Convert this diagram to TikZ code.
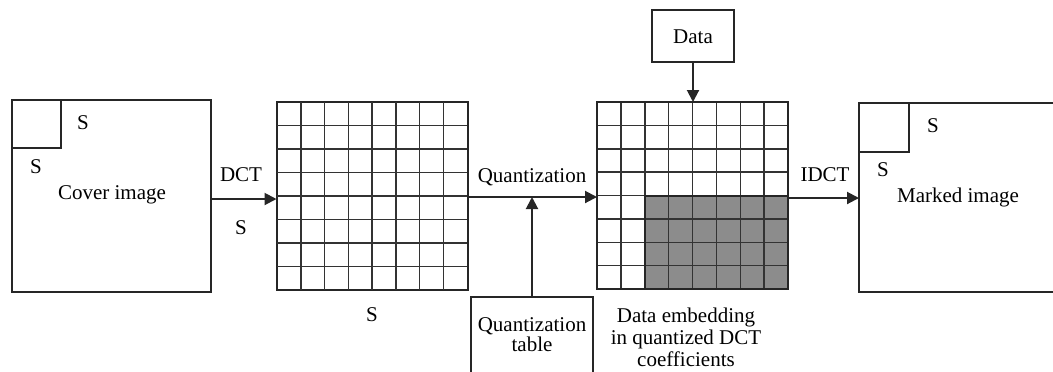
\documentclass[tikz,border=0pt]{standalone}
\usepackage{fontspec}
\setmainfont{Liberation Serif}
\usetikzlibrary{arrows.meta}
\begin{document}
\begin{tikzpicture}[x=0.5pt,y=-0.5pt,
  box/.style={draw=black!85,line width=1pt,inner sep=0pt,outer sep=0pt},
  gridbox/.style={draw=black!85,line width=1pt,inner sep=0pt,outer sep=0pt,minimum width=95.5pt,minimum height=94pt},
  gl/.style={draw=black!80,line width=0.75pt},
  arr/.style={draw=black!85,line width=1pt,-{Triangle[length=6pt,width=6pt]}},
  lbl/.style={font=\fontsize{10.5}{12}\selectfont,inner sep=0pt},
]
\useasboundingbox (0,0) rectangle (1053,371);
\begin{scope}
\clip (0,0) rectangle (1053,371);
% cover image
\node[box,minimum width=99.5pt,minimum height=96pt] (cover) at (111.5,196) {};
\draw[box] (12,148) -- (61,148) -- (61,100);
\node[lbl] (cs1) at (83,123) {S};
\node[lbl] (cs2) at (36,167) {S};
\node[lbl] (ctext) at (112,195) {Cover image};
% grid 1
\node[gridbox] (g1) at (372,196) {};
\foreach \i in {1,...,7}{
  \draw[gl] (277+\i*23.75,102) -- (277+\i*23.75,290);
  \draw[gl] (277,102+\i*23.5) -- (467,102+\i*23.5);
}
% grid 2
\node[gridbox,minimum width=95.5pt,minimum height=93.5pt] (g2) at (692.5,195.5) {};
\fill[black!45] (644.75,195.5) rectangle (788,289);
\foreach \i in {1,...,7}{
  \draw[gl] (597+\i*23.875,102) -- (597+\i*23.875,289);
  \draw[gl] (597,102+\i*23.375) -- (788,102+\i*23.375);
}
\draw[box] (644.75,289) -- (644.75,195.5) -- (788,195.5);
\draw[box] (g2.north west) rectangle (g2.south east);
% marked image
\node[box,minimum width=105.5pt,minimum height=94.5pt] (marked) at (964.5,197.5) {};
\draw[box] (859,152) -- (909,152) -- (909,103);
\node[lbl] (ms1) at (933,126) {S};
\node[lbl] (ms2) at (883,170) {S};
\node[lbl] (mtext) at (958,197) {Marked image};
% data box
\node[box,minimum width=41pt,minimum height=26pt] (data) at (693,36) {};
\node[lbl] (dtext) at (693,37) {Data};
% quantization table box
\node[box,minimum width=61pt,minimum height=43pt] (qt) at (532,340) {};
\node[lbl,align=center,font=\fontsize{10.5}{10}\selectfont] (qtext) at (532,335) {Quantization\\table};
\end{scope}
% labels
\node[lbl] (dct) at (241,175) {DCT};
\node[lbl] (dcts) at (241,228) {S};
\node[lbl] (quant) at (532,177) {Quantization};
\node[lbl] (idct) at (825,175) {IDCT};
\node[lbl] (g1s) at (372,315) {S};
\node[lbl,align=center,font=\fontsize{10.5}{11}\selectfont] (emb) at (686,337) {Data embedding\\in quantized DCT\\coefficients};
% connectors
\coordinate (qj) at (532,197);
\draw[arr] (cover.east |- 0,199) -- (g1.west |- 0,199);
\draw[arr] (g1.east |- 0,197) -- (g2.west |- 0,197);
\draw[arr] (g2.east |- 0,198) -- (marked.west |- 0,198);
\draw[arr] (qt.north) -- (qj);
\draw[arr] (data.south) -- (data.south |- g2.north);
\end{tikzpicture}
\end{document}
